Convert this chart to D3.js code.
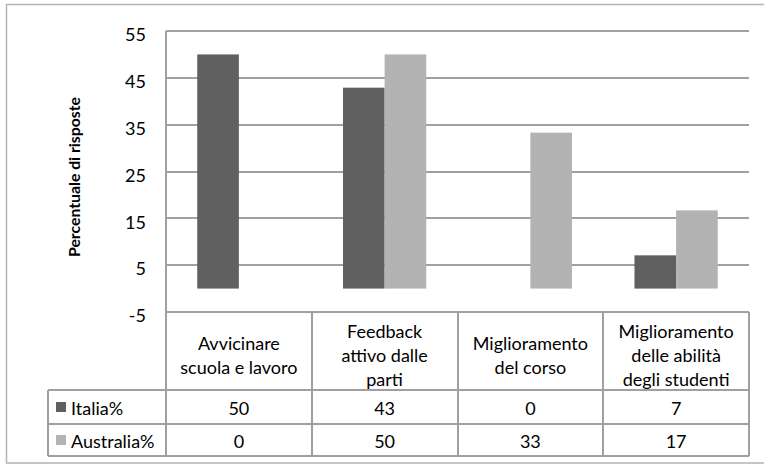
<!DOCTYPE html>
<html lang="it">
<head>
  <meta charset="UTF-8">
  <title>Percentuale di risposte</title>
  <style>
    body { margin: 0; background: #fff; }
    svg text { font-family: Lato, "Open Sans", sans-serif; fill: #000; }
    .grid line { stroke: #a0a0a0; stroke-width: 1.5; shape-rendering: crispEdges; }
    .tbl line { stroke: #a0a0a0; stroke-width: 1.5; shape-rendering: crispEdges; }
  </style>
</head>
<body>
  <div id="chart"></div>
  <script src="https://d3js.org/d3.v7.min.js"></script>
  <script>
    // data
    const categories = [
      ["Avvicinare", "scuola e lavoro"],
      ["Feedback", "attivo dalle", "parti"],
      ["Miglioramento", "del corso"],
      ["Miglioramento", "delle abilità", "degli studenti"]
    ];
    const seriesNames = ["Italia%", "Australia%"];
    const italia = [50, 42.9, 0, 7.1];
    const australia = [0, 50, 33.3, 16.7];
    const yTicks = [-5, 5, 15, 25, 35, 45, 55];
    const colors = ["#606060", "#b3b3b3"];

    const width = 764, height = 464;
    const plot = { left: 166, right: 749, top: 31, bottom: 312 };
    const tableRows = { header: 390, row1: 424, row2: 456 };
    const legendLeft = 48;
    const fs = '18px';

    const svg = d3.select('#chart').append('svg')
      .attr('width', width).attr('height', height);

    // outer chart border
    svg.append('rect')
      .attr('x', 6.5).attr('y', 4.5)
      .attr('width', 800).attr('height', 458.5)
      .attr('fill', 'none').attr('stroke', '#b4b4b4').attr('stroke-width', 1.5);

    const y = d3.scaleLinear().domain([-5, 55]).range([plot.bottom, plot.top]);
    const x0 = d3.scaleBand().domain(d3.range(categories.length))
      .range([plot.left, plot.right]).paddingInner(0).paddingOuter(0);
    // Excel gap width 150%
    const barW = x0.bandwidth() / 3.5;
    const x1 = d3.scaleBand().domain(d3.range(seriesNames.length))
      .range([0.75 * barW, 2.75 * barW]);

    // gridlines
    svg.append('g').attr('class', 'grid')
      .selectAll('line').data(yTicks.filter(d => d > -5)).enter()
      .append('line')
      .attr('x1', plot.left).attr('x2', plot.right)
      .attr('y1', d => Math.round(y(d))).attr('y2', d => Math.round(y(d)));

    // y axis labels
    const yAxis = d3.axisLeft(y).tickValues(yTicks).tickSize(0).tickPadding(20)
      .tickFormat(d => String(d));
    const ya = svg.append('g').attr('transform', `translate(${plot.left},4)`).call(yAxis);
    ya.select('.domain').remove();
    ya.selectAll('text').style('font-size', fs).style('font-family', 'Lato, sans-serif').attr('fill', '#000');

    // axis title
    svg.append('text')
      .attr('transform', 'translate(80,177) rotate(-90)')
      .attr('text-anchor', 'middle')
      .attr('textLength', 160).attr('lengthAdjust', 'spacingAndGlyphs')
      .style('font-size', '16px').style('font-weight', 'bold')
      .text('Percentuale di risposte');

    // bars
    const series = [italia, australia];
    series.forEach((vals, si) => {
      svg.append('g').selectAll('rect').data(vals).enter()
        .append('rect')
        .attr('x', (d, i) => x0(i) + x1(si))
        .attr('width', x1.bandwidth())
        .attr('y', d => y(Math.max(d, 0)))
        .attr('height', d => Math.abs(y(d) - y(0)))
        .attr('fill', colors[si]);
    });

    // data table
    const tbl = svg.append('g').attr('class', 'tbl');
    tbl.append('line').attr('x1', plot.left).attr('x2', plot.left)
      .attr('y1', plot.top).attr('y2', tableRows.row2);
    tbl.append('line').attr('x1', plot.left).attr('x2', plot.right)
      .attr('y1', plot.bottom).attr('y2', plot.bottom);
    [tableRows.header, tableRows.row1, tableRows.row2].forEach(yy => {
      tbl.append('line').attr('x1', legendLeft).attr('x2', plot.right)
        .attr('y1', yy).attr('y2', yy);
    });
    tbl.append('line').attr('x1', legendLeft).attr('x2', legendLeft)
      .attr('y1', tableRows.header).attr('y2', tableRows.row2);
    tbl.selectAll('.col').data(d3.range(1, categories.length + 1)).enter()
      .append('line')
      .attr('x1', i => Math.round(plot.left + i * x0.bandwidth()))
      .attr('x2', i => Math.round(plot.left + i * x0.bandwidth()))
      .attr('y1', plot.bottom).attr('y2', tableRows.row2);

    // header labels
    const lineH = 24;
    const headerMid = (plot.bottom + tableRows.header) / 2;
    categories.forEach((lines, i) => {
      const cx = x0(i) + x0.bandwidth() / 2;
      const t = svg.append('text').attr('text-anchor', 'middle')
        .style('font-size', fs);
      lines.forEach((ln, k) => {
        t.append('tspan').attr('x', cx)
          .attr('y', headerMid + 11 + (k - (lines.length - 1) / 2) * lineH)
          .text(ln);
      });
    });

    // rows
    const rowMids = [(tableRows.header + tableRows.row1) / 2, (tableRows.row1 + tableRows.row2) / 2];
    series.forEach((vals, si) => {
      svg.append('rect').attr('x', 56).attr('y', rowMids[si] - 5)
        .attr('width', 10).attr('height', 10).attr('fill', colors[si]);
      svg.append('text').attr('x', 71).attr('y', rowMids[si] + 8)
        .style('font-size', fs).text(seriesNames[si]);
      svg.append('g').selectAll('text').data(vals).enter()
        .append('text').attr('text-anchor', 'middle')
        .attr('x', (d, i) => x0(i) + x0.bandwidth() / 2)
        .attr('y', rowMids[si] + 8)
        .style('font-size', fs)
        .text(d => d3.format('.0f')(d));
    });
  </script>
</body>
</html>
